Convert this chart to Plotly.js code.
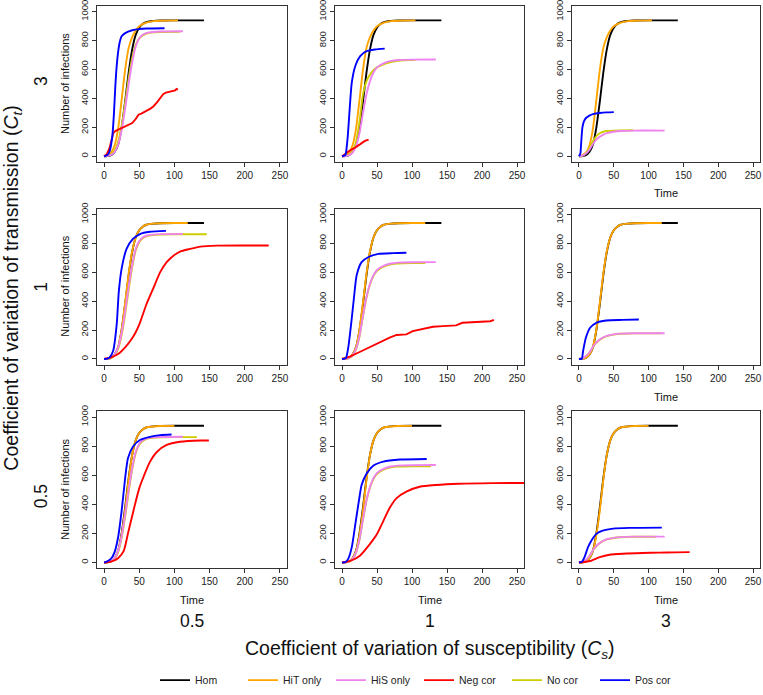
<!DOCTYPE html>
<html><head><meta charset="utf-8">
<script src="https://cdn.plot.ly/plotly-3.0.1.min.js"></script>
<style>html,body{margin:0;padding:0;background:#fff;}#plot{width:763px;height:695px;}</style>
</head><body><div id="plot"></div>
<script>
// ---- Data: [time, number of infections] ----
// Rows: Ct = 3, 1, 0.5 ; Columns: Cs = 0.5, 1, 3
const rowLabels = ["3", "1", "0.5"];
const colLabels = ["0.5", "1", "3"];
const seriesNames = ["Hom", "HiT only", "HiS only", "Neg cor", "No cor", "Pos cor"];
const xTicks = [0, 50, 100, 150, 200, 250];
const yTicks = [0, 200, 400, 600, 800, 1000];

const hom = [[0,0],[5,2],[10,8],[15,30],[20,80],[25,200],[30,380],[35,580],[40,740],[45,840],[50,890],[55,915],[60,928],[70,936],[80,939],[100,940],[142,940]];

const hit_ct3  = [[0,0],[5,8],[10,25],[15,75],[20,190],[25,390],[30,600],[35,750],[40,825],[45,870],[50,900],[60,925],[70,935],[80,938],[105,940]];
const hit_ct1  = [[0,0],[5,2],[10,8],[15,30],[20,82],[25,205],[30,390],[35,590],[40,745],[45,840],[50,890],[55,915],[60,928],[70,936],[80,939],[100,940],[119,940]];
const hit_ct05 = [[0,0],[5,2],[10,8],[15,30],[20,80],[25,190],[30,360],[35,570],[40,740],[45,840],[50,890],[55,915],[60,928],[70,935],[80,938],[100,939]];

const his_cs05 = [[0,0],[5,3],[10,10],[15,30],[20,80],[25,180],[30,330],[35,500],[40,650],[45,760],[50,815],[55,840],[60,852],[70,860],[80,863],[112,865]];
const his_cs1  = [[0,0],[5,2],[10,8],[15,25],[20,70],[25,160],[30,300],[35,430],[40,520],[45,580],[50,615],[60,645],[70,660],[80,666],[100,669],[134,670]];
const his_cs3  = [[0,0],[5,5],[10,20],[15,45],[20,85],[25,115],[30,135],[35,150],[40,160],[50,170],[60,175],[80,178],[123,178]];

const nocor_ct3_cs05  = [[0,0],[5,5],[10,15],[15,40],[20,100],[25,210],[30,370],[35,540],[40,680],[45,770],[50,815],[60,848],[70,857],[80,860],[108,861]];
const nocor_ct3_cs1   = [[0,0],[5,5],[10,12],[15,35],[20,100],[25,240],[30,430],[35,520],[40,565],[45,595],[50,615],[60,638],[70,652],[80,660],[105,667]];
const nocor_ct3_cs3   = [[0,0],[5,5],[10,20],[15,60],[20,105],[25,140],[30,160],[35,170],[40,175],[50,178],[78,180]];
const nocor_ct1_cs05  = [[0,0],[5,2],[10,8],[15,25],[20,70],[25,165],[30,310],[35,480],[40,635],[45,750],[50,808],[55,835],[60,848],[70,857],[80,860],[100,862],[146,862]];
const nocor_ct1_cs1   = [[0,0],[5,2],[10,7],[15,22],[20,65],[25,155],[30,295],[35,425],[40,515],[45,575],[50,610],[60,640],[70,655],[80,660],[100,663],[119,663]];
const nocor_ct1_cs3   = [[0,0],[5,4],[10,18],[15,42],[20,82],[25,112],[30,133],[35,148],[40,158],[50,168],[60,174],[80,177],[118,177]];
const nocor_ct05_cs05 = [[0,0],[5,2],[10,8],[15,26],[20,72],[25,170],[30,315],[35,485],[40,640],[45,752],[50,810],[55,836],[60,849],[70,857],[80,860],[100,862],[132,862]];
const nocor_ct05_cs1  = [[0,0],[5,2],[10,7],[15,22],[20,66],[25,156],[30,296],[35,426],[40,516],[45,576],[50,610],[60,640],[70,654],[80,659],[100,662],[127,662]];
const nocor_ct05_cs3  = [[0,0],[5,4],[10,18],[15,43],[20,83],[25,113],[30,134],[35,149],[40,159],[50,169],[60,174],[80,177],[110,177]];

const neg_ct3_cs05  = [[0,0],[4,15],[8,60],[11,130],[13,160],[16,175],[20,185],[25,195],[30,205],[35,217],[40,230],[45,258],[49,288],[53,295],[57,308],[62,320],[66,330],[70,345],[75,372],[80,405],[84,430],[88,440],[92,445],[97,450],[101,456],[103,466],[105,462]];
const neg_ct3_cs1   = [[0,0],[5,18],[9,34],[14,48],[19,61],[26,84],[33,107],[38,116]];
const neg_ct1_cs05  = [[0,0],[10,11],[20,34],[30,80],[39,136],[45,185],[51,250],[60,375],[70,489],[80,602],[89,670],[99,716],[108,743],[122,761],[137,777],[160,784],[200,785],[234,785]];
const neg_ct1_cs1   = [[0,0],[12,18],[26,50],[40,84],[54,118],[68,148],[78,166],[92,170],[101,193],[116,209],[130,223],[144,227],[163,232],[172,250],[186,255],[205,257],[212,261],[217,270]];
const neg_ct05_cs05 = [[0,0],[10,6],[20,30],[28,80],[34,200],[40,320],[44,400],[50,510],[57,600],[65,690],[75,760],[89,808],[108,830],[137,839],[149,839]];
const neg_ct05_cs1  = [[0,0],[12,11],[26,49],[40,128],[50,196],[59,285],[68,375],[78,443],[92,488],[111,521],[134,533],[167,542],[215,546],[260,547]];
const neg_ct05_cs3  = [[0,0],[16,11],[30,38],[44,54],[63,61],[91,66],[115,68],[138,70],[159,72]];

const pos_ct3_cs05  = [[0,0],[5,10],[8,35],[10,80],[12,150],[14,290],[16,480],[18,625],[20,720],[22,784],[25,830],[30,852],[40,872],[50,880],[60,884],[86,886]];
const pos_ct3_cs1   = [[0,0],[3,5],[5,11],[8,125],[11,330],[14,511],[19,625],[26,693],[35,727],[47,739],[61,745]];
const pos_ct3_cs3   = [[0,0],[2,20],[3,80],[4,150],[5,200],[7,240],[10,265],[15,282],[20,292],[30,300],[40,304],[50,306]];
const pos_ct1_cs05  = [[0,0],[5,3],[8,11],[13,57],[18,239],[21,466],[25,625],[32,761],[41,830],[51,864],[65,880],[88,886]];
const pos_ct1_cs1   = [[0,0],[4,3],[6,11],[9,80],[13,239],[17,420],[21,580],[28,670],[38,705],[52,727],[73,732],[92,734]];
const pos_ct1_cs3   = [[0,0],[4,2],[6,57],[10,148],[16,216],[25,250],[39,266],[63,270],[86,273]];
const pos_ct05_cs05 = [[0,0],[3,5],[10,27],[15,72],[20,174],[25,355],[30,581],[34,717],[41,796],[51,842],[65,864],[80,876],[96,880]];
const pos_ct05_cs1  = [[0,0],[5,4],[9,27],[14,106],[19,263],[24,420],[28,533],[35,611],[45,667],[59,694],[83,708],[121,712]];
const pos_ct05_cs3  = [[0,0],[4,5],[8,38],[13,106],[18,152],[25,197],[34,219],[49,233],[72,238],[119,240]];

// panel grid [row][col]
const hitByRow = [hit_ct3, hit_ct1, hit_ct05];
const hisByCol = [his_cs05, his_cs1, his_cs3];
const nocor = [[nocor_ct3_cs05, nocor_ct3_cs1, nocor_ct3_cs3],[nocor_ct1_cs05, nocor_ct1_cs1, nocor_ct1_cs3],[nocor_ct05_cs05, nocor_ct05_cs1, nocor_ct05_cs3]];
const neg = [[neg_ct3_cs05, neg_ct3_cs1, null],[neg_ct1_cs05, neg_ct1_cs1, null],[neg_ct05_cs05, neg_ct05_cs1, neg_ct05_cs3]];
const pos = [[pos_ct3_cs05, pos_ct3_cs1, pos_ct3_cs3],[pos_ct1_cs05, pos_ct1_cs1, pos_ct1_cs3],[pos_ct05_cs05, pos_ct05_cs1, pos_ct05_cs3]];
const jagged = [[true,false,false],[false,true,false],[false,false,false]];

// ---- Layout geometry (pixels) ----
const W = 763, H = 695;
const colPx = [[97,287],[335,524],[572,760]];
const rowPx = [[6,164],[211,369],[416,575]];
const FONT = "Liberation Sans, Arial, Helvetica, sans-serif";
const colors = {"Hom":"#000000","HiT only":"#FFA500","HiS only":"#EE82EE","Neg cor":"#FF0000","No cor":"#CDCD00","Pos cor":"#0000FF"};
const rank = {"Hom":1,"HiT only":2,"HiS only":3,"Neg cor":4,"No cor":5,"Pos cor":6};

const px = x => x / W;
const py = y => 1 - y / H;

const traces = [];
const layout = {
  width: W, height: H,
  margin: {l:0, r:0, t:0, b:0},
  paper_bgcolor: "#fff", plot_bgcolor: "#fff",
  font: {family: FONT, color: "#222"},
  showlegend: true,
  legend: {orientation: "h", x: px(155), xanchor: "left", y: py(688), yanchor: "middle",
           entrywidth: 43, entrywidthmode: "pixels", itemwidth: 30, tracegroupgap: 0,
           font: {size: 10.5, family: FONT, color: "#222"}, bgcolor: "rgba(0,0,0,0)", borderwidth: 0},
  annotations: []
};

const legendShown = {};
function addTrace(name, data, k, isJagged) {
  if (!data) return;
  const show = !legendShown[name];
  legendShown[name] = true;
  traces.push({
    type: "scatter", mode: "lines",
    x: data.map(d => d[0]), y: data.map(d => d[1]),
    xaxis: "x" + (k === 1 ? "" : k), yaxis: "y" + (k === 1 ? "" : k),
    name: name, legendgroup: name, showlegend: show, legendrank: rank[name],
    line: {color: colors[name], width: 1.9, shape: isJagged ? "linear" : "spline", smoothing: 0.6},
    hoverinfo: "skip"
  });
}

for (let r = 0; r < 3; r++) {
  for (let c = 0; c < 3; c++) {
    const k = r * 3 + c + 1;
    const xs = k === 1 ? "" : k;
    layout["xaxis" + xs] = {
      domain: [px(colPx[c][0]), px(colPx[c][1])], anchor: "y" + xs,
      range: [-10, 260], tickvals: xTicks, ticktext: xTicks.map(String),
      ticks: "outside", ticklen: 4, tickwidth: 1, tickcolor: "#333",
      showline: true, mirror: true, linecolor: "#333", linewidth: 1,
      showgrid: false, zeroline: false, fixedrange: true, ticklabeloverflow: "allow",
      tickfont: {size: 10, family: FONT, color: "#222"}
    };
    layout["yaxis" + xs] = {
      domain: [py(rowPx[r][1]), py(rowPx[r][0])], anchor: "x" + xs,
      range: [-40, 1040], tickvals: yTicks, ticktext: yTicks.map(String),
      tickangle: -90, ticklabeloverflow: "allow",
      ticks: "outside", ticklen: 4, tickwidth: 1, tickcolor: "#333",
      showline: true, mirror: true, linecolor: "#333", linewidth: 1,
      showgrid: false, zeroline: false, fixedrange: true,
      tickfont: {size: 9.5, family: FONT, color: "#222"}
    };
    addTrace("Hom", hom, k, false);
    addTrace("HiT only", hitByRow[r], k, false);
    addTrace("No cor", nocor[r][c], k, false);
    addTrace("HiS only", hisByCol[c], k, false);
    addTrace("Neg cor", neg[r][c], k, jagged[r][c]);
    addTrace("Pos cor", pos[r][c], k, false);
  }
}

function ann(text, x, y, size, angle) {
  layout.annotations.push({text: text, xref: "paper", yref: "paper", x: px(x), y: py(y),
    xanchor: "center", yanchor: "middle", showarrow: false, textangle: angle || 0,
    font: {size: size, family: FONT, color: "#111"}});
}
// y-axis titles on first column
for (let r = 0; r < 3; r++) ann("Number of infections", 65, (rowPx[r][0] + rowPx[r][1]) / 2, 11, -90);
// "Time" titles
ann("Time", (colPx[2][0] + colPx[2][1]) / 2, 195, 11);
ann("Time", (colPx[2][0] + colPx[2][1]) / 2, 402, 11);
for (let c = 0; c < 3; c++) ann("Time", (colPx[c][0] + colPx[c][1]) / 2, 607, 11);
// row / column labels
const rowLabY = [82, 290, 502];
for (let r = 0; r < 3; r++) ann(rowLabels[r], 41, rowLabY[r], 17.5, -90);
for (let c = 0; c < 3; c++) ann(colLabels[c], (colPx[c][0] + colPx[c][1]) / 2, 628, 17.5);
ann("Coefficient of variation of susceptibility (<i>C</i><sub><i>s</i></sub>)", 430, 657, 19.5);
ann("Coefficient of variation of transmission (<i>C</i><sub><i>t</i></sub>)", 13, 292, 19.5, -90);

Plotly.newPlot("plot", traces, layout, {staticPlot: true, displayModeBar: false});
</script>
</body></html>
